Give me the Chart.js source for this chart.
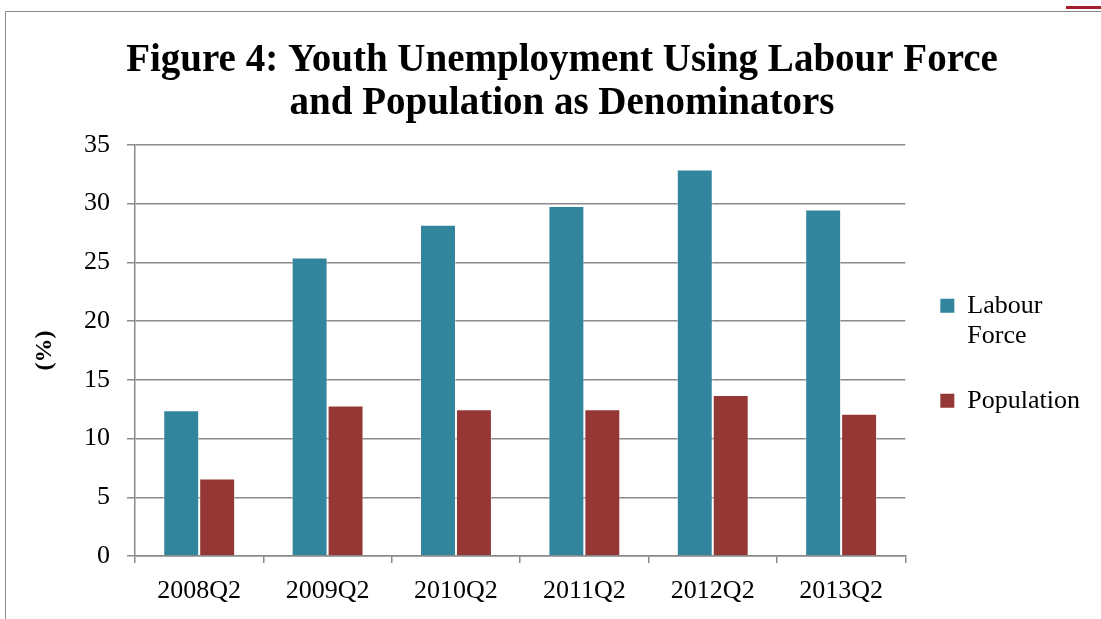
<!DOCTYPE html>
<html>
<head>
<meta charset="utf-8">
<script src="https://cdn.jsdelivr.net/npm/chart.js@4/dist/chart.umd.min.js"></script>
<style>
  html, body { margin: 0; padding: 0; background: #fff; width: 1101px; height: 619px; overflow: hidden; }
  #frame { position: absolute; left: 5px; top: 11px; width: 1200px; height: 700px;
           border-left: 1px solid #8c8c8c; border-top: 1px solid #8c8c8c; }
  #accent { position: absolute; left: 1066px; top: 6px; width: 35px; height: 3px; background: #a61e2b; }
  #chart { position: absolute; left: 6px; top: 12px; }
</style>
</head>
<body>
<div id="frame"></div>
<div id="accent"></div>
<canvas id="chart" width="1095" height="607"></canvas>
<script>
// Youth unemployment rate (%) by quarter, two denominators
const quarters = ['2008Q2', '2009Q2', '2010Q2', '2011Q2', '2012Q2', '2013Q2'];
const labourForce = [12.4, 25.4, 28.2, 29.8, 32.9, 29.5];
const population = [6.6, 12.8, 12.5, 12.5, 13.7, 12.1];
const seriesNames = ['Labour Force', 'Population'];
const legendLines = [['Labour', 'Force'], 'Population'];
const titleLines = ['Figure 4: Youth Unemployment Using Labour Force', 'and Population as Denominators'];
const yAxisLabel = '(%)';

const serif = "'Liberation Serif', 'Times New Roman', serif";
const gridGray = '#8a8a8a';

Chart.defaults.font.family = serif;
Chart.defaults.color = '#000';

new Chart(document.getElementById('chart'), {
  type: 'bar',
  data: {
    labels: quarters,
    datasets: [
      { label: seriesNames[0], data: labourForce, backgroundColor: '#31859c',
        borderColor: 'rgba(255,255,255,0.45)', borderWidth: 1 },
      { label: seriesNames[1], data: population, backgroundColor: '#953735',
        borderColor: 'rgba(255,255,255,0.45)', borderWidth: 1 }
    ]
  },
  options: {
    responsive: false,
    animation: false,
    layout: { padding: { left: 28, right: 11, top: 0, bottom: 12 } },
    datasets: { bar: { categoryPercentage: 0.56, barPercentage: 1.0 } },
    plugins: {
      title: {
        display: true,
        text: titleLines,
        color: '#000',
        font: { family: serif, size: 39, weight: 'bold', lineHeight: 1.1 },
        padding: { top: 27.5, bottom: 19.5 }
      },
      legend: {
        position: 'right',
        align: 'start',
        fullSize: false,
        title: { display: true, text: '', font: { size: 12, lineHeight: 1.2 }, padding: { top: 98.6, bottom: 0 } },
        labels: {
          color: '#000',
          font: { family: serif, size: 26, lineHeight: 1.154 },
          boxWidth: 14,
          boxHeight: 14,
          padding: 35,
          generateLabels(chart) {
            const items = Chart.defaults.plugins.legend.labels.generateLabels(chart);
            items.forEach((item, i) => { item.text = legendLines[i]; item.lineWidth = 0; });
            return items;
          }
        }
      },
      tooltip: { enabled: false }
    },
    scales: {
      x: {
        afterFit(scale) { scale.height = 51; },
        grid: { display: true, drawOnChartArea: false, drawTicks: true, tickLength: 7, offset: true,
                color: gridGray, lineWidth: 1.5 },
        border: { display: true, color: gridGray, width: 1.5 },
        ticks: { color: '#000', font: { family: serif, size: 26 }, padding: 12.4, maxRotation: 0 }
      },
      y: {
        min: 0,
        max: 35,
        afterFit(scale) { scale.width = 101; },
        ticks: { stepSize: 5, color: '#000', font: { family: serif, size: 26 }, padding: 17 },
        grid: { color: gridGray, lineWidth: 1.5, drawTicks: true, tickLength: 8 },
        border: { display: true, color: gridGray, width: 1.5 },
        title: {
          display: true,
          text: yAxisLabel,
          color: '#000',
          font: { family: serif, size: 24, weight: 'bold', lineHeight: 1.2 },
          padding: { top: -3.9, bottom: 0 }
        }
      }
    }
  }
});
</script>
</body>
</html>
